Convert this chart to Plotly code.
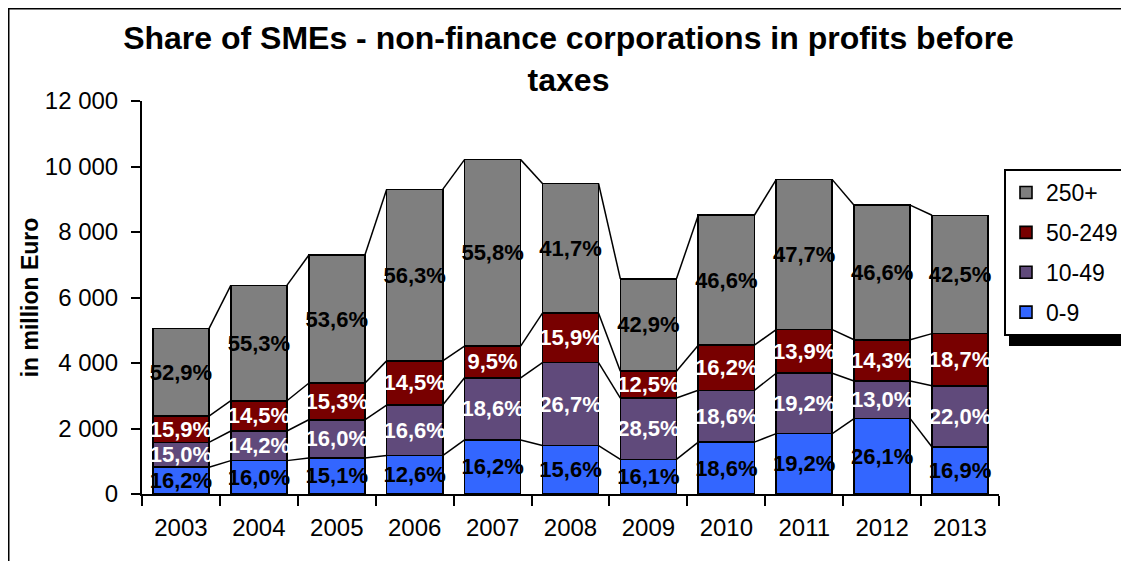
import plotly.graph_objects as go

years = ["2003", "2004", "2005", "2006", "2007", "2008", "2009", "2010", "2011", "2012", "2013"]
series_names = ["0-9", "10-49", "50-249", "250+"]

# profits before taxes, million Euro, by enterprise size class
v_0_9 = [818, 1019, 1101, 1172, 1652, 1480, 1058, 1583, 1843, 2302, 1437]
v_10_49 = [758, 905, 1166, 1544, 1897, 2534, 1872, 1583, 1843, 1147, 1870]
v_50_249 = [803, 924, 1115, 1349, 969, 1509, 821, 1379, 1334, 1261, 1590]
v_250 = [2671, 3523, 3907, 5236, 5692, 3957, 2819, 3966, 4579, 4110, 3613]

# share labels
s_0_9 = ["16,2%", "16,0%", "15,1%", "12,6%", "16,2%", "15,6%", "16,1%", "18,6%", "19,2%", "26,1%", "16,9%"]
s_10_49 = ["15,0%", "14,2%", "16,0%", "16,6%", "18,6%", "26,7%", "28,5%", "18,6%", "19,2%", "13,0%", "22,0%"]
s_50_249 = ["15,9%", "14,5%", "15,3%", "14,5%", "9,5%", "15,9%", "12,5%", "16,2%", "13,9%", "14,3%", "18,7%"]
s_250 = ["52,9%", "55,3%", "53,6%", "56,3%", "55,8%", "41,7%", "42,9%", "46,6%", "47,7%", "46,6%", "42,5%"]

y_tickvals = [0, 2000, 4000, 6000, 8000, 10000, 12000]
y_ticktext = ["0", "2 000", "4 000", "6 000", "8 000", "10 000", "12 000"]

values = [v_0_9, v_10_49, v_50_249, v_250]
shares = [s_0_9, s_10_49, s_50_249, s_250]
colors = ["#3366FF", "#604A7B", "#780000", "#7F7F7F"]
text_colors = ["black", "white", "white", "black"]
legend_ranks = [4, 3, 2, 1]

FONT = "Arial, Liberation Sans, sans-serif"
BARGAP = 0.28

# page has an 8px body margin: work in screenshot pixels, shift by OFF
OFF = 8
FW, FH = 1129 - OFF, 561 - OFF
L, R, T, B = 142 - OFF, 999 - OFF, 101 - OFF, 494 - OFF
W, H = R - L, B - T
def px(x): return (x - OFF - L) / W   # x given in screenshot pixels
def py(y): return (B - (y - OFF)) / H

fig = go.Figure()
for name, vals, sh, col, tcol, rk in zip(series_names, values, shares, colors, text_colors, legend_ranks):
    fig.add_trace(go.Bar(
        x=years, y=vals, name=name, text=sh,
        textposition="inside", insidetextanchor="middle", constraintext="none",
        textangle=0,
        textfont=dict(family=FONT, size=22, color=tcol, weight="bold"),
        marker=dict(color=col, line=dict(color="black", width=1.6)),
        legendgroup=name, legendrank=rk, hoverinfo="x+y+name",
    ))

# Excel-style series lines connecting stacked levels between adjacent bars
half = (1 - BARGAP) / 2
cum = [0] * len(years)
for vals in values:
    cum = [c + v for c, v in zip(cum, vals)]
    for i in range(len(years) - 1):
        fig.add_shape(type="line", xref="x", yref="y",
                      x0=i + half, y0=cum[i], x1=i + 1 - half, y1=cum[i + 1],
                      line=dict(color="black", width=1.5))

# outer chart border (left and top visible)
fig.add_shape(type="rect", xref="paper", yref="paper",
              x0=px(OFF + 0.5), x1=px(1160), y0=py(OFF + 0.5), y1=py(600),
              line=dict(color="black", width=2), layer="below")
# legend shadow
fig.add_shape(type="rect", xref="paper", yref="paper",
              x0=px(1009), x1=px(1160), y0=py(346), y1=py(175),
              line=dict(width=0), fillcolor="black", layer="above")

fig.update_layout(
    width=FW, height=FH,
    margin=dict(l=L, r=FW - R, t=T, b=FH - B, pad=0, autoexpand=False),
    paper_bgcolor="white", plot_bgcolor="white",
    barmode="stack", bargap=BARGAP,
    font=dict(family=FONT, color="black"),
    title=dict(text="<b>Share of SMEs - non-finance corporations in profits before<br>taxes</b>",
               x=0.5, xanchor="center", y=1 - 41 / FH, yanchor="top",
               font=dict(family=FONT, size=32, color="black")),
    legend=dict(x=px(1004), xanchor="left", y=py(169), yanchor="top",
                traceorder="grouped", tracegroupgap=7, entrywidth=80,
                bordercolor="black", borderwidth=2, bgcolor="white",
                font=dict(family=FONT, size=23, color="black")),
    xaxis=dict(type="category", tickson="boundaries", ticks="outside", ticklen=10,
               tickwidth=2, tickcolor="black", showline=True, linecolor="black", linewidth=2,
               tickfont=dict(family=FONT, size=24, color="black"), ticklabelstandoff=11,
               showgrid=False, zeroline=False, range=[-0.5, 10.5]),
    yaxis=dict(range=[0, 12000], tickvals=y_tickvals, ticktext=y_ticktext,
               ticks="outside", ticklen=9, tickwidth=2, tickcolor="black",
               showline=True, linecolor="black", linewidth=2, showgrid=False, zeroline=False,
               tickfont=dict(family=FONT, size=24, color="black"), ticklabelstandoff=8,
               title=dict(text="<b>in million Euro</b>", standoff=0,
                          font=dict(family=FONT, size=23, color="black"))),
)

fig.write_html("out.html")
